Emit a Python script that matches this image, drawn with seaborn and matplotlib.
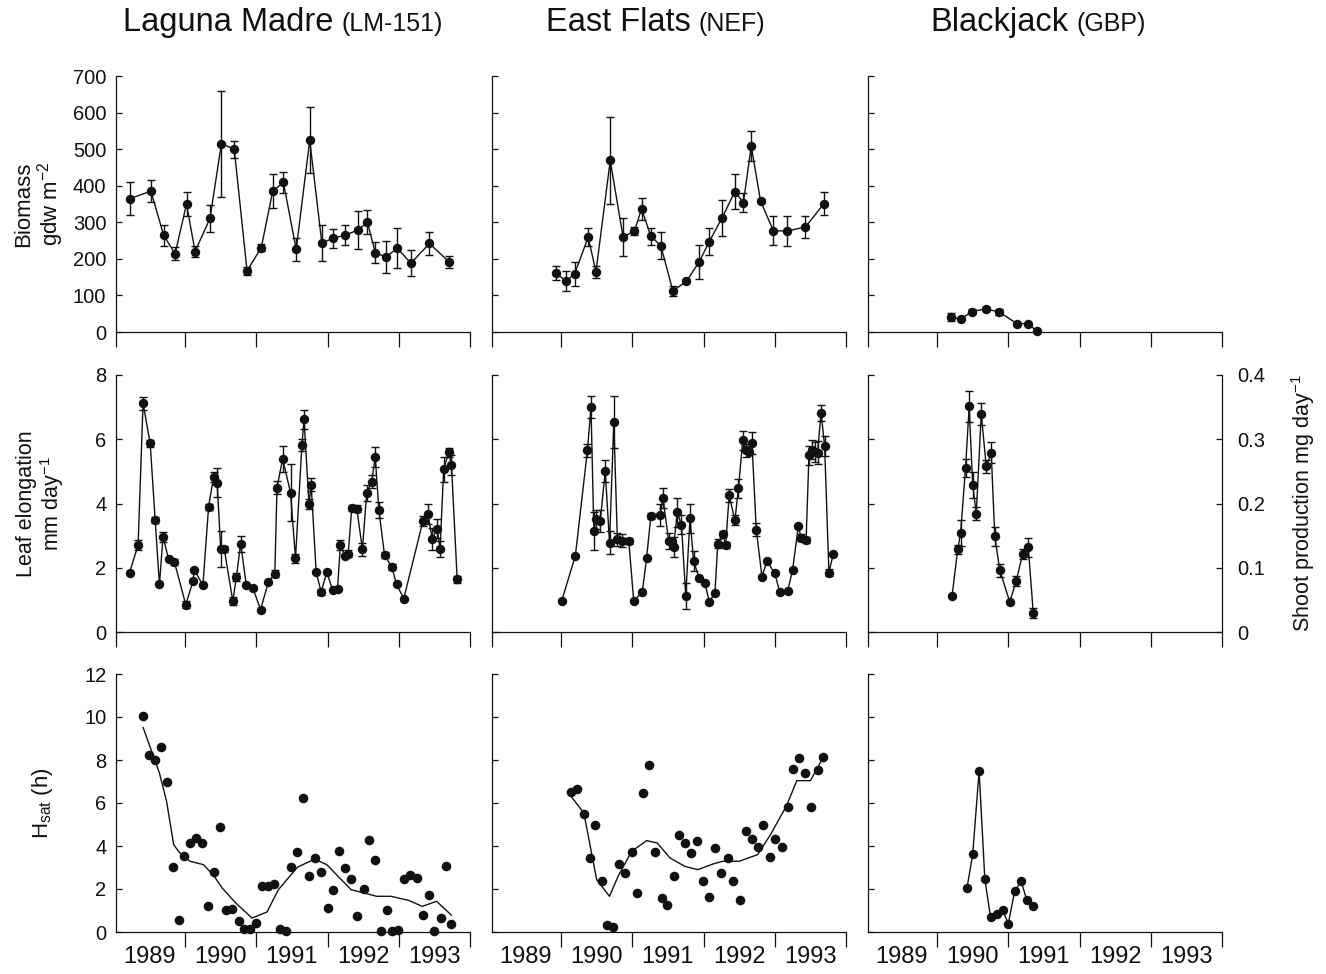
import numpy as np
import pandas as pd
import matplotlib
matplotlib.use("Agg")
import matplotlib.pyplot as plt
import seaborn as sns

# ---------------- data ----------------
sites = ["Laguna Madre", "East Flats", "Blackjack"]
site_codes = ["(LM-151)", "(NEF)", "(GBP)"]
year_labels = ["1989", "1990", "1991", "1992", "1993"]

# Biomass (gdw m-2): time (decimal year), mean, error
lm_bio_t = [1989.23, 1989.52, 1989.70, 1989.86, 1990.02, 1990.14, 1990.35, 1990.51, 1990.69,
            1990.87, 1991.07, 1991.23, 1991.38, 1991.56, 1991.75, 1991.92, 1992.07, 1992.25,
            1992.43, 1992.56, 1992.67, 1992.82, 1992.98, 1993.17, 1993.43, 1993.71]
lm_bio = [365, 385, 264, 214, 350, 220, 311, 515, 500, 167, 231, 385, 409, 226, 524, 243, 256,
          265, 279, 300, 217, 205, 229, 188, 242, 191]
lm_bio_err = [45, 30, 28, 18, 33, 16, 37, 145, 23, 10, 10, 47, 29, 32, 90, 49, 26, 28, 52, 33,
              28, 44, 55, 36, 31, 16]

nef_bio_t = [1989.93, 1990.07, 1990.19, 1990.38, 1990.49, 1990.69, 1990.87, 1991.03, 1991.13,
             1991.26, 1991.40, 1991.57, 1991.76, 1991.94, 1992.08, 1992.26, 1992.44, 1992.56,
             1992.67, 1992.80, 1992.98, 1993.17, 1993.43, 1993.69]
nef_bio = [161, 139, 159, 259, 165, 469, 260, 276, 337, 262, 236, 112, 139, 192, 247, 312, 384,
           354, 509, 358, 277, 276, 287, 351]
nef_bio_err = [20, 27, 33, 25, 16, 118, 53, 11, 30, 23, 37, 13, 5, 46, 37, 50, 48, 27, 41, 5,
               40, 42, 29, 31]

gbp_bio_t = [1990.19, 1990.33, 1990.49, 1990.68, 1990.87, 1991.12, 1991.28, 1991.40]
gbp_bio = [41, 35, 56, 63, 55, 23, 23, 2]
gbp_bio_err = [12, 0, 7, 5, 8, 0, 0, 0]

# Leaf elongation (mm day-1)
lm_leaf_t = [1989.22, 1989.34, 1989.41, 1989.51, 1989.58, 1989.64, 1989.69, 1989.77, 1989.85,
             1990.01, 1990.11, 1990.13, 1990.25, 1990.33, 1990.40, 1990.45, 1990.50, 1990.55,
             1990.67, 1990.72, 1990.78, 1990.86, 1990.95, 1991.06, 1991.17, 1991.26, 1991.29,
             1991.37, 1991.48, 1991.55, 1991.64, 1991.67, 1991.74, 1991.77, 1991.84, 1991.91,
             1991.99, 1992.07, 1992.14, 1992.18, 1992.25, 1992.29, 1992.34, 1992.41, 1992.49,
             1992.55, 1992.62, 1992.67, 1992.72, 1992.80, 1992.90, 1992.97, 1993.07, 1993.34,
             1993.41, 1993.47, 1993.54, 1993.58, 1993.63, 1993.70, 1993.74, 1993.82]
lm_leaf = [1.85, 2.70, 7.12, 5.87, 3.48, 1.48, 2.96, 2.26, 2.18, 0.85, 1.58, 1.94, 1.45, 3.90,
           4.83, 4.65, 2.58, 2.58, 0.96, 1.71, 2.75, 1.45, 1.37, 0.70, 1.56, 1.82, 4.49, 5.39,
           4.34, 2.29, 5.82, 6.62, 3.98, 4.59, 1.87, 1.25, 1.87, 1.30, 1.35, 2.70, 2.36, 2.44,
           3.86, 3.84, 2.58, 4.34, 4.68, 5.45, 3.81, 2.39, 2.03, 1.48, 1.04, 3.46, 3.67, 2.89,
           3.22, 2.58, 5.06, 5.59, 5.20, 1.64]
lm_leaf_err = [0, 0.15, 0.2, 0.1, 0.1, 0, 0.15, 0, 0.1, 0.1, 0, 0, 0, 0.1, 0.15, 0.45, 0.55,
               0.1, 0.12, 0.12, 0.25, 0, 0, 0, 0, 0.1, 0.2, 0.4, 0.9, 0.15, 0.2, 0.3, 0.15,
               0.2, 0, 0.1, 0, 0, 0, 0.15, 0, 0.1, 0.1, 0.1, 0.2, 0.25, 0.2, 0.3, 0.25, 0.1,
               0.1, 0, 0, 0.15, 0.3, 0.35, 0.3, 0.25, 0.4, 0.15, 0.3, 0.1]

nef_leaf_t = [1990.01, 1990.20, 1990.37, 1990.42, 1990.46, 1990.49, 1990.55, 1990.62, 1990.68,
              1990.74, 1990.79, 1990.86, 1990.95, 1991.02, 1991.14, 1991.20, 1991.26, 1991.39,
              1991.43, 1991.51, 1991.56, 1991.58, 1991.63, 1991.69, 1991.75, 1991.81, 1991.86,
              1991.94, 1992.02, 1992.08, 1992.16, 1992.20, 1992.27, 1992.31, 1992.36, 1992.44,
              1992.49, 1992.55, 1992.60, 1992.64, 1992.68, 1992.74, 1992.82, 1992.89, 1993.00,
              1993.07, 1993.18, 1993.25, 1993.33, 1993.37, 1993.44, 1993.48, 1993.52, 1993.56,
              1993.60, 1993.65, 1993.70, 1993.76, 1993.82]
nef_leaf = [0.98, 2.37, 5.65, 7.01, 3.15, 3.51, 3.46, 5.01, 2.78, 6.54, 2.89, 2.84, 2.84, 0.96,
            1.25, 2.29, 3.61, 3.64, 4.17, 2.84, 2.84, 2.65, 3.72, 3.34, 1.12, 3.54, 2.21, 1.67,
            1.53, 0.93, 1.22, 2.75, 3.05, 2.71, 4.25, 3.48, 4.47, 5.97, 5.65, 5.60, 5.88, 3.19,
            1.72, 2.21, 1.83, 1.24, 1.27, 1.93, 3.29, 2.94, 2.87, 5.50, 5.67, 5.60, 5.58, 6.82,
            5.79, 1.85, 2.42]
nef_leaf_err = [0, 0, 0.2, 0.35, 0.6, 0.3, 0.35, 0.35, 0.35, 0.8, 0.2, 0.2, 0.1, 0, 0, 0, 0.1,
                0.35, 0.3, 0.25, 0, 0.3, 0.45, 0.3, 0.4, 0.45, 0.3, 0, 0, 0, 0, 0.15, 0.1, 0.1,
                0.2, 0.15, 0.3, 0.3, 0.2, 0, 0.35, 0.2, 0, 0, 0, 0, 0, 0, 0, 0.1, 0.1, 0.3,
                0.3, 0.3, 0.35, 0.25, 0.3, 0.1, 0]

# Shoot production (mg day-1), Blackjack
gbp_shoot_t = [1990.21, 1990.29, 1990.33, 1990.40, 1990.45, 1990.50, 1990.55, 1990.62, 1990.69,
               1990.76, 1990.81, 1990.88, 1991.02, 1991.11, 1991.20, 1991.28, 1991.35]
gbp_shoot = [0.056, 0.129, 0.154, 0.256, 0.351, 0.229, 0.184, 0.339, 0.258, 0.279, 0.149,
             0.096, 0.047, 0.079, 0.121, 0.132, 0.030]
gbp_shoot_err = [0, 0.007, 0.02, 0.014, 0.024, 0.02, 0.01, 0.017, 0.01, 0.016, 0.015, 0.01,
                 0, 0.008, 0.008, 0.015, 0.008]

# Hsat (h): observations and smoothed trend
lm_hsat_t = [1989.41, 1989.49, 1989.58, 1989.66, 1989.74, 1989.83, 1989.92, 1989.99, 1990.07,
             1990.16, 1990.24, 1990.32, 1990.41, 1990.49, 1990.58, 1990.66, 1990.75, 1990.83,
             1990.91, 1991.00, 1991.08, 1991.16, 1991.25, 1991.33, 1991.41, 1991.49, 1991.57,
             1991.66, 1991.74, 1991.82, 1991.91, 1992.00, 1992.07, 1992.16, 1992.25, 1992.33,
             1992.42, 1992.51, 1992.58, 1992.66, 1992.75, 1992.84, 1992.91, 1992.99, 1993.08,
             1993.16, 1993.25, 1993.34, 1993.42, 1993.49, 1993.59, 1993.67, 1993.74]
lm_hsat = [10.06, 8.25, 8.00, 8.60, 6.96, 3.04, 0.54, 3.55, 4.15, 4.37, 4.14, 1.22, 2.77, 4.87,
           1.04, 1.05, 0.51, 0.12, 0.12, 0.42, 2.15, 2.15, 2.23, 0.15, 0.03, 3.04, 3.74, 6.23,
           2.59, 3.43, 2.79, 1.10, 1.94, 3.77, 2.99, 2.45, 0.76, 2.00, 4.29, 3.35, 0.03, 1.04,
           0.03, 0.11, 2.45, 2.65, 2.51, 0.81, 1.72, 0.03, 0.64, 3.07, 0.37]
lm_fit_t = [1989.41, 1989.64, 1989.74, 1989.84, 1989.92, 1990.07, 1990.26, 1990.41, 1990.52,
            1990.71, 1990.94, 1991.15, 1991.31, 1991.58, 1991.82, 1991.99, 1992.33, 1992.69,
            1992.89, 1993.14, 1993.33, 1993.53, 1993.74]
lm_fit = [9.52, 7.39, 6.08, 4.06, 3.70, 3.29, 3.13, 2.59, 2.05, 1.35, 0.65, 0.93, 1.97, 3.02,
          3.39, 3.13, 1.97, 1.66, 1.66, 1.47, 1.19, 1.43, 0.78]

nef_hsat_t = [1990.14, 1990.23, 1990.32, 1990.40, 1990.48, 1990.57, 1990.65, 1990.73, 1990.81,
              1990.90, 1990.99, 1991.07, 1991.15, 1991.24, 1991.32, 1991.41, 1991.49, 1991.58,
              1991.66, 1991.74, 1991.82, 1991.91, 1991.99, 1992.08, 1992.16, 1992.25, 1992.34,
              1992.42, 1992.51, 1992.59, 1992.68, 1992.76, 1992.84, 1992.93, 1993.01, 1993.10,
              1993.18, 1993.26, 1993.34, 1993.43, 1993.51, 1993.60, 1993.68]
nef_hsat = [6.49, 6.65, 5.49, 3.44, 4.96, 2.39, 0.33, 0.23, 3.16, 2.74, 3.74, 1.80, 6.46, 7.77,
            3.74, 1.58, 1.24, 2.60, 4.51, 4.15, 3.66, 4.23, 2.36, 1.61, 3.91, 2.76, 3.43, 2.39,
            1.47, 4.70, 4.31, 3.97, 4.98, 3.49, 4.34, 3.97, 5.80, 7.58, 8.09, 7.38, 5.83, 7.53,
            8.12]
nef_fit_t = [1990.14, 1990.32, 1990.50, 1990.68, 1990.80, 1990.99, 1991.20, 1991.35, 1991.53,
             1991.74, 1991.92, 1992.13, 1992.27, 1992.50, 1992.76, 1992.94, 1993.16, 1993.31,
             1993.50, 1993.68]
nef_fit = [6.31, 5.53, 2.43, 1.66, 2.59, 3.75, 4.25, 4.14, 3.44, 3.05, 2.90, 3.16, 3.29, 3.29,
           3.60, 4.53, 5.84, 7.04, 7.04, 8.12]

gbp_hsat_t = [1990.42, 1990.50, 1990.59, 1990.67, 1990.75, 1990.84, 1990.92, 1991.00, 1991.09,
              1991.18, 1991.26, 1991.35]
gbp_hsat = [2.05, 3.62, 7.49, 2.47, 0.70, 0.82, 1.01, 0.39, 1.91, 2.36, 1.48, 1.21]

# ---------------- style ----------------
sns.set_style("ticks")
plt.rcParams["font.family"] = ["Liberation Sans", "DejaVu Sans"]
plt.rcParams["mathtext.fontset"] = "custom"
plt.rcParams["mathtext.rm"] = "Liberation Sans"
plt.rcParams["mathtext.it"] = "Liberation Sans:italic"
plt.rcParams["mathtext.bf"] = "Liberation Sans:bold"

INK = "#111111"
W, H = 1326, 974
fig = plt.figure(figsize=(W / 100, H / 100), dpi=100)
fig.patch.set_facecolor("white")

col_left = [116, 492, 868]
col_width = 354
row_top = [76, 375, 674]
row_bottom = [332, 632, 932]

XMIN, XMAX = 1989.03, 1994.0
year_ticks = [1990, 1991, 1992, 1993, 1994]
year_mid = [1989.5, 1990.5, 1991.5, 1992.5, 1993.5]

axes = [[None] * 3 for _ in range(3)]
for r in range(3):
    for c in range(3):
        l = col_left[c] / W
        b = 1 - row_bottom[r] / H
        h = (row_bottom[r] - row_top[r]) / H
        ax = fig.add_axes([l, b, col_width / W, h])
        axes[r][c] = ax
        ax.set_xlim(XMIN, XMAX)
        major = year_ticks if r == 2 else [XMIN] + year_ticks
        ax.set_xticks(major)
        ax.set_xticklabels([""] * len(major))
        ax.set_xticks(year_mid, minor=True)
        ax.tick_params(axis="x", which="major", direction="out", length=11, width=0.9,
                       color=INK)
        if r == 2:
            ax.set_xticklabels(year_labels, minor=True)
            ax.tick_params(axis="x", which="minor", length=0, pad=10, labelsize=17,
                           labelcolor=INK)
        else:
            ax.set_xticklabels([""] * 5, minor=True)
            ax.tick_params(axis="x", which="minor", length=0)
        ax.tick_params(axis="y", direction="in", length=4, width=0.9, color=INK,
                       labelsize=14.5, pad=7, labelcolor=INK)
        sns.despine(ax=ax)
        for s in ("left", "bottom", "right"):
            ax.spines[s].set_color(INK)
            ax.spines[s].set_linewidth(0.9)


def errorline(ax, t, v, err):
    t = np.asarray(t, float)
    v = np.asarray(v, float)
    err = np.asarray(err, float)
    df = pd.DataFrame({"t": t, "v": v})
    m = err > 0
    ax.errorbar(t[m], v[m], yerr=err[m], fmt="none", ecolor=INK, elinewidth=1.0,
                capsize=2.6, capthick=1.0, zorder=2)
    sns.lineplot(data=df, x="t", y="v", ax=ax, sort=False, estimator=None, color=INK,
                 linewidth=1.0, marker="o", markersize=6.8, markeredgewidth=0,
                 markerfacecolor=INK, clip_on=False, zorder=3)


def scatter_trend(ax, t, v, ft=None, fv=None):
    if ft is not None:
        sns.lineplot(x=ft, y=fv, ax=ax, sort=False, estimator=None, color=INK,
                     linewidth=1.0, zorder=2)
        sns.scatterplot(x=t, y=v, ax=ax, color=INK, s=48, linewidth=0, clip_on=False,
                        zorder=3)
    else:
        sns.lineplot(x=t, y=v, ax=ax, sort=False, estimator=None, color=INK,
                     linewidth=1.0, marker="o", markersize=6.8, markeredgewidth=0,
                     markerfacecolor=INK, clip_on=False, zorder=3)


# Row 1: biomass
errorline(axes[0][0], lm_bio_t, lm_bio, lm_bio_err)
errorline(axes[0][1], nef_bio_t, nef_bio, nef_bio_err)
errorline(axes[0][2], gbp_bio_t, gbp_bio, gbp_bio_err)
for c in range(3):
    ax = axes[0][c]
    ax.set_ylim(0, 700)
    ax.set_yticks(range(0, 701, 100))
    if c > 0:
        ax.set_yticklabels([])

# Row 2: leaf elongation / shoot production
errorline(axes[1][0], lm_leaf_t, lm_leaf, lm_leaf_err)
errorline(axes[1][1], nef_leaf_t, nef_leaf, nef_leaf_err)
errorline(axes[1][2], gbp_shoot_t, gbp_shoot, gbp_shoot_err)
for c in range(2):
    ax = axes[1][c]
    ax.set_ylim(0, 8)
    ax.set_yticks([0, 2, 4, 6, 8])
    if c > 0:
        ax.set_yticklabels([])
ax = axes[1][2]
ax.set_ylim(0, 0.4)
ax.set_yticks([0, 0.1, 0.2, 0.3, 0.4])
ax.set_yticklabels(["0", "0.1", "0.2", "0.3", "0.4"])
ax.spines["right"].set_visible(True)
ax.tick_params(axis="y", left=True, right=True, labelleft=False, labelright=True, pad=11)

# Row 3: Hsat
scatter_trend(axes[2][0], lm_hsat_t, lm_hsat, lm_fit_t, lm_fit)
scatter_trend(axes[2][1], nef_hsat_t, nef_hsat, nef_fit_t, nef_fit)
scatter_trend(axes[2][2], gbp_hsat_t, gbp_hsat)
for c in range(3):
    ax = axes[2][c]
    ax.set_ylim(0, 12)
    ax.set_yticks([0, 2, 4, 6, 8, 10, 12])
    if c > 0:
        ax.set_yticklabels([])

for r in range(3):
    for c in range(3):
        axes[r][c].set_xlabel("")
        axes[r][c].set_ylabel("")

# Axis titles
axes[0][0].set_ylabel("Biomass\ngdw m$^{-2}$", fontsize=16, linespacing=1.05, color=INK)
axes[0][0].yaxis.set_label_coords(-0.14, 0.5)
axes[1][0].set_ylabel("Leaf elongation\nmm day$^{-1}$", fontsize=15.5, linespacing=1.05,
                      color=INK)
axes[1][0].yaxis.set_label_coords(-0.14, 0.5)
axes[2][0].set_ylabel("H$_{\\mathrm{sat}}$ (h)", fontsize=16, color=INK)
axes[2][0].yaxis.set_label_coords(-0.173, 0.5)

ax = axes[1][2]
ax.yaxis.set_label_position("right")
ax.set_ylabel("Shoot production mg day$^{-1}$", fontsize=15.5, rotation=90, color=INK)
ax.yaxis.set_label_coords(1.19, 0.5)

# Column headings: site name followed by smaller site code
title_x = [123, 546, 930]
title_y = 1 - 31 / H
fig.canvas.draw()
renderer = fig.canvas.get_renderer()
for c in range(3):
    big = fig.text(title_x[c] / W, title_y, sites[c], fontsize=23.5, va="baseline",
                   ha="left", color=INK)
    bb = big.get_window_extent(renderer=renderer)
    fig.text((bb.x1 + 8) / W, title_y, site_codes[c], fontsize=18, va="baseline",
             ha="left", color=INK)

fig.savefig("out.png", dpi=100, facecolor="white")
